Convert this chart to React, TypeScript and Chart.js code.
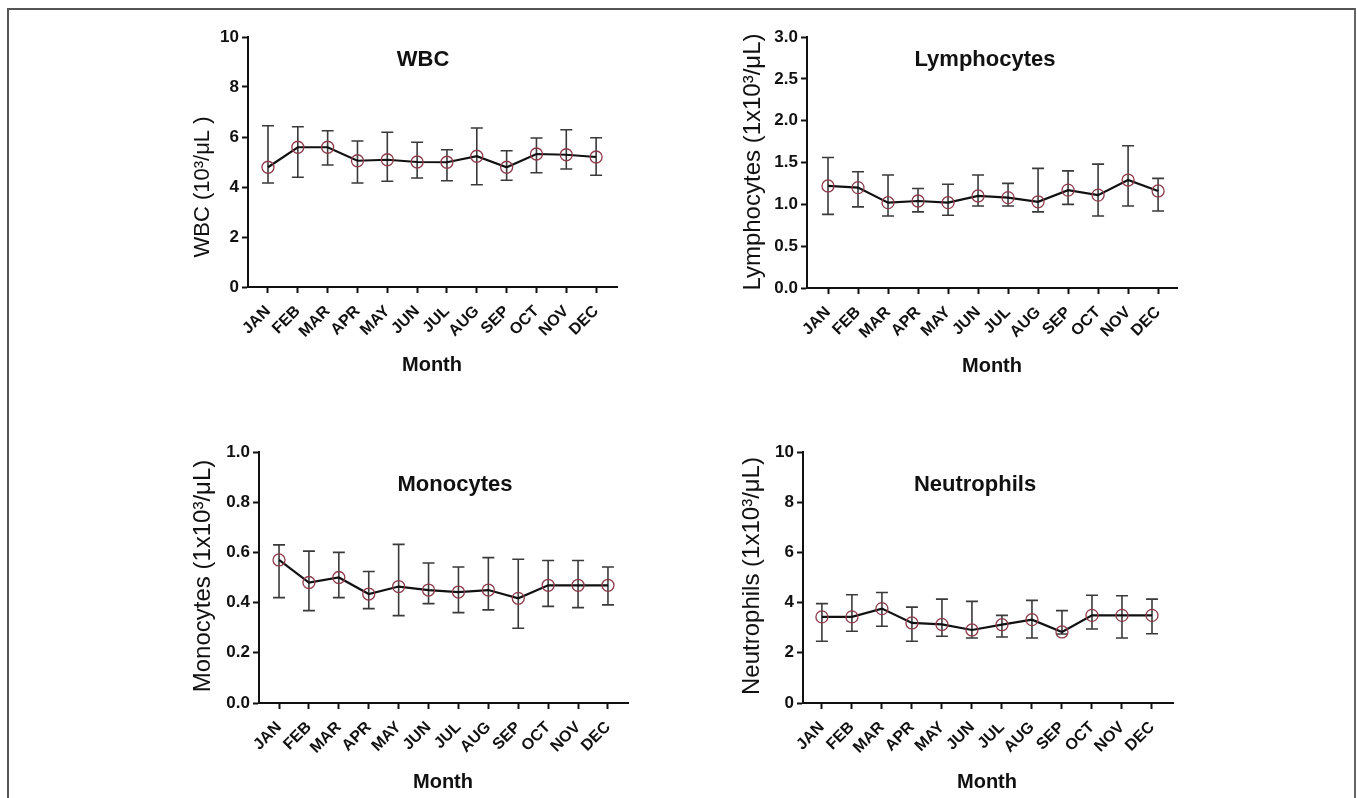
import React, { useEffect, useRef } from "react";
import { Chart, registerables } from "chart.js";

Chart.register(...registerables);

const MONTHS = ["JAN", "FEB", "MAR", "APR", "MAY", "JUN", "JUL", "AUG", "SEP", "OCT", "NOV", "DEC"];

const WBC_MEAN = [4.79, 5.59, 5.59, 5.05, 5.09, 5.0, 4.99, 5.23, 4.79, 5.32, 5.29, 5.2];
const WBC_LOW = [4.16, 4.39, 4.88, 4.16, 4.23, 4.36, 4.25, 4.09, 4.27, 4.57, 4.72, 4.47];
const WBC_HIGH = [6.45, 6.41, 6.25, 5.84, 6.19, 5.79, 5.49, 6.36, 5.45, 5.96, 6.29, 5.97];
const WBC_TICKS = [0, 2, 4, 6, 8, 10];

const LYM_MEAN = [1.22, 1.2, 1.02, 1.04, 1.02, 1.1, 1.08, 1.03, 1.17, 1.11, 1.29, 1.16];
const LYM_LOW = [0.88, 0.97, 0.86, 0.91, 0.87, 0.98, 0.98, 0.91, 1.0, 0.86, 0.98, 0.92];
const LYM_HIGH = [1.56, 1.39, 1.35, 1.19, 1.24, 1.35, 1.25, 1.43, 1.4, 1.48, 1.7, 1.31];
const LYM_TICKS = [0, 0.5, 1.0, 1.5, 2.0, 2.5, 3.0];

const MONO_MEAN = [0.57, 0.48, 0.5, 0.434, 0.464, 0.45, 0.442, 0.45, 0.417, 0.469, 0.469, 0.469];
const MONO_LOW = [0.42, 0.368, 0.42, 0.376, 0.348, 0.396, 0.36, 0.371, 0.298, 0.385, 0.38, 0.391];
const MONO_HIGH = [0.63, 0.605, 0.6, 0.524, 0.632, 0.558, 0.542, 0.579, 0.573, 0.568, 0.568, 0.542];
const MONO_TICKS = [0, 0.2, 0.4, 0.6, 0.8, 1.0];

const NEU_MEAN = [3.43, 3.43, 3.76, 3.19, 3.13, 2.91, 3.12, 3.32, 2.83, 3.49, 3.49, 3.49];
const NEU_LOW = [2.46, 2.86, 3.06, 2.46, 2.66, 2.59, 2.63, 2.59, 2.75, 2.95, 2.59, 2.76];
const NEU_HIGH = [3.96, 4.31, 4.4, 3.82, 4.14, 4.05, 3.49, 4.09, 3.68, 4.29, 4.27, 4.14];
const NEU_TICKS = [0, 2, 4, 6, 8, 10];

const FONT = "'Liberation Sans', Arial, sans-serif";

type PanelCfg = {
  title: string;
  yLabel: string;
  yLabelSize: number;
  mean: number[];
  low: number[];
  high: number[];
  yTicks: number[];
  decimals: number;
  left: number;
  top: number;
  width: number;
  height: number;
  yW: number;
  xH: number;
  padTop: number;
  padRight: number;
  xMin: number;
  xMax: number;
  titlePos: [number, number];
  yLabelPos: [number, number];
  monthPos: [number, number];
};

const PANELS: PanelCfg[] = [
  {
    title: "WBC", yLabel: "WBC (10³/μL )", yLabelSize: 22, mean: WBC_MEAN, low: WBC_LOW, high: WBC_HIGH, yTicks: WBC_TICKS, decimals: 0,
    left: 140, top: 20, width: 500, height: 375, yW: 108, xH: 108, padTop: 17, padRight: 23, xMin: -0.67, xMax: 11.7,
    titlePos: [283, 40], yLabelPos: [63, 167], monthPos: [292, 345],
  },
  {
    title: "Lymphocytes", yLabel: "Lymphocytes (1x10³/μL)", yLabelSize: 24, mean: LYM_MEAN, low: LYM_LOW, high: LYM_HIGH, yTicks: LYM_TICKS, decimals: 1,
    left: 690, top: 20, width: 510, height: 375, yW: 117, xH: 107, padTop: 17, padRight: 23, xMin: -0.7, xMax: 11.63,
    titlePos: [295, 40], yLabelPos: [63, 142], monthPos: [302, 346],
  },
  {
    title: "Monocytes", yLabel: "Monocytes (1x10³/μL)", yLabelSize: 24, mean: MONO_MEAN, low: MONO_LOW, high: MONO_HIGH, yTicks: MONO_TICKS, decimals: 1,
    left: 140, top: 410, width: 510, height: 388, yW: 119, xH: 95, padTop: 42, padRight: 22, xMin: -0.67, xMax: 11.67,
    titlePos: [315, 75], yLabelPos: [63, 166], monthPos: [303, 372],
  },
  {
    title: "Neutrophils", yLabel: "Neutrophils (1x10³/μL)", yLabelSize: 24, mean: NEU_MEAN, low: NEU_LOW, high: NEU_HIGH, yTicks: NEU_TICKS, decimals: 0,
    left: 690, top: 410, width: 510, height: 388, yW: 113, xH: 95, padTop: 42, padRight: 27, xMin: -0.63, xMax: 11.7,
    titlePos: [285, 75], yLabelPos: [62, 166], monthPos: [297, 372],
  },
];

function Panel({ cfg }: { cfg: PanelCfg }) {
  const ref = useRef<HTMLCanvasElement | null>(null);
  useEffect(() => {
    if (!ref.current) return;
    const errPlugin = {
      id: "errBars",
      beforeDatasetsDraw(chart: any) {
        const ctx = chart.ctx;
        const xs = chart.scales.x;
        const ys = chart.scales.y;
        ctx.save();
        ctx.strokeStyle = "#3a3a3a";
        ctx.lineWidth = 1.6;
        cfg.mean.forEach((_, i) => {
          const x = xs.getPixelForValue(i);
          const yl = ys.getPixelForValue(cfg.low[i]);
          const yh = ys.getPixelForValue(cfg.high[i]);
          ctx.beginPath();
          ctx.moveTo(x, yl);
          ctx.lineTo(x, yh);
          ctx.moveTo(x - 6, yl);
          ctx.lineTo(x + 6, yl);
          ctx.moveTo(x - 6, yh);
          ctx.lineTo(x + 6, yh);
          ctx.stroke();
        });
        ctx.restore();
      },
    };
    const textPlugin = {
      id: "texts",
      afterDraw(chart: any) {
        const ctx = chart.ctx;
        ctx.save();
        ctx.fillStyle = "#111";
        ctx.textAlign = "center";
        ctx.textBaseline = "middle";
        ctx.font = `bold 22px ${FONT}`;
        ctx.fillText(cfg.title, cfg.titlePos[0], cfg.titlePos[1]);
        ctx.font = `bold 20px ${FONT}`;
        ctx.fillText("Month", cfg.monthPos[0], cfg.monthPos[1]);
        ctx.translate(cfg.yLabelPos[0], cfg.yLabelPos[1]);
        ctx.rotate(-Math.PI / 2);
        ctx.font = `${cfg.yLabelSize}px ${FONT}`;
        ctx.fillText(cfg.yLabel, 0, 0);
        ctx.restore();
      },
    };
    const chart = new Chart(ref.current, {
      type: "line",
      data: {
        datasets: [
          {
            data: cfg.mean.map((y, i) => ({ x: i, y })),
            borderColor: "#111",
            borderWidth: 2.2,
            pointRadius: 6,
            pointBorderColor: "#8e3a4a",
            pointBackgroundColor: "rgba(0,0,0,0)",
            pointBorderWidth: 1.3,
            tension: 0,
          },
        ],
      },
      options: {
        responsive: false,
        animation: false,
        layout: { padding: { top: cfg.padTop, right: cfg.padRight, left: 0, bottom: 0 } },
        plugins: { legend: { display: false }, tooltip: { enabled: false }, title: { display: false } },
        scales: {
          x: {
            type: "linear",
            min: cfg.xMin,
            max: cfg.xMax,
            afterBuildTicks: (s: any) => {
              s.ticks = MONTHS.map((_, i) => ({ value: i }));
            },
            afterFit: (s: any) => {
              s.height = cfg.xH;
            },
            ticks: {
              autoSkip: false,
              minRotation: 45,
              maxRotation: 45,
              padding: 9,
              color: "#111",
              font: { family: FONT, size: 16, weight: "bold" },
              callback: (v: any) => MONTHS[Math.round(v)] ?? "",
            },
            grid: { drawOnChartArea: false, drawTicks: true, tickLength: 6, tickWidth: 2, tickColor: "#111", color: "#111" },
            border: { display: true, color: "#111", width: 2 },
          },
          y: {
            type: "linear",
            min: cfg.yTicks[0],
            max: cfg.yTicks[cfg.yTicks.length - 1],
            afterBuildTicks: (s: any) => {
              s.ticks = cfg.yTicks.map((v) => ({ value: v }));
            },
            afterFit: (s: any) => {
              s.width = cfg.yW;
            },
            ticks: {
              padding: 3,
              color: "#111",
              font: { family: FONT, size: 17, weight: "bold" },
              callback: (v: any) => Number(v).toFixed(cfg.decimals),
            },
            grid: { drawOnChartArea: false, drawTicks: true, tickLength: 6, tickWidth: 2, tickColor: "#111", color: "#111" },
            border: { display: true, color: "#111", width: 2 },
          },
        },
      },
      plugins: [errPlugin, textPlugin],
    } as any);
    return () => chart.destroy();
  }, [cfg]);
  return (
    <canvas
      ref={ref}
      width={cfg.width}
      height={cfg.height}
      style={{ position: "absolute", left: cfg.left, top: cfg.top, width: cfg.width, height: cfg.height }}
    />
  );
}

export default function App() {
  return (
    <div style={{ position: "absolute", left: 0, top: 0, width: 1357, height: 798, overflow: "hidden", background: "#fff" }}>
      <div
        style={{
          position: "absolute",
          left: 7,
          top: 8,
          width: 1345,
          height: 810,
          borderTop: "2px solid #555",
          borderLeft: "2px solid #555",
          borderRight: "2px solid #666",
        }}
      />
      {PANELS.map((p, i) => (
        <Panel key={i} cfg={p} />
      ))}
    </div>
  );
}
